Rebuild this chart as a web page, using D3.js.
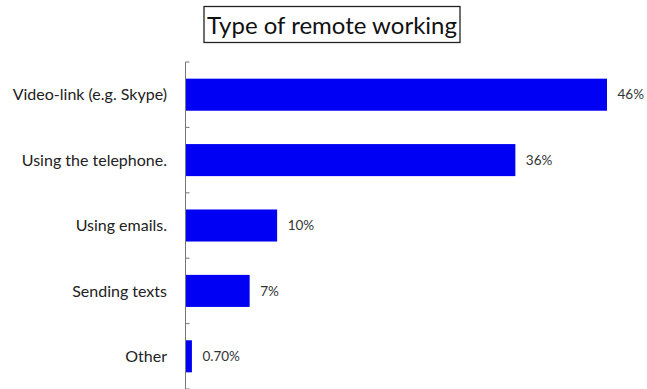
<!DOCTYPE html>
<html>
<head>
<meta charset="utf-8">
<script src="https://cdn.jsdelivr.net/npm/d3@7"></script>
<style>
  html, body { margin: 0; padding: 0; background: #fff; }
  svg { display: block; }
  text { font-family: Lato, "Open Sans", sans-serif; }
</style>
</head>
<body>
<svg id="chart" width="647" height="389"></svg>
<script>
// Ways people work remotely, as a share of responses
const categories = ["Video-link (e.g. Skype)", "Using the telephone.", "Using emails.", "Sending texts", "Other"];
const values = [46, 36, 10, 7, 0.7];
const valueLabels = ["46%", "36%", "10%", "7%", "0.70%"];
const title = "Type of remote working";

const svg = d3.select("#chart");
const margin = { top: 62, left: 185.5, right: 40, bottom: 0 };
const W = 647, H = 389;

const x = d3.scaleLinear().domain([0, 46]).range([margin.left, 607]);
const y = d3.scaleBand().domain(categories).range([margin.top, H]).paddingInner(0.51).paddingOuter(0.255);

// Title in a framed box
const tg = svg.append("g");
tg.append("rect")
  .attr("x", 204).attr("y", 6.5).attr("width", 256).attr("height", 36)
  .attr("fill", "#fff").attr("stroke", "#222").attr("stroke-width", 1.3);
tg.append("text")
  .attr("x", 332).attr("y", 34)
  .attr("text-anchor", "middle")
  .attr("font-size", 24)
  .attr("fill", "#111")
  .text(title);

// Bars
svg.append("g").selectAll("rect")
  .data(values)
  .join("rect")
  .attr("x", x(0))
  .attr("y", (d, i) => y(categories[i]))
  .attr("width", d => x(d) - x(0))
  .attr("height", y.bandwidth())
  .attr("fill", "#0000f5");

// Value labels
svg.append("g").selectAll("text")
  .data(values)
  .join("text")
  .attr("x", d => x(d) + 10.5)
  .attr("y", (d, i) => y(categories[i]) + y.bandwidth() / 2)
  .attr("dy", "0.35em")
  .attr("font-size", 13.5)
  .attr("fill", "#333")
  .text((d, i) => valueLabels[i]);

// Category axis with inward ticks at band boundaries
const axisG = svg.append("g");
axisG.append("line")
  .attr("x1", x(0)).attr("x2", x(0))
  .attr("y1", margin.top).attr("y2", H)
  .attr("stroke", "#777").attr("stroke-width", 1);
const bounds = categories.map(c => y(c) - y.step() * y.paddingInner() / 2);
bounds.push(H);
axisG.selectAll("line.tick")
  .data(bounds)
  .join("line")
  .attr("class", "tick")
  .attr("x1", x(0)).attr("x2", x(0) + 4)
  .attr("y1", d => d).attr("y2", d => d)
  .attr("stroke", "#777");

axisG.selectAll("text")
  .data(categories)
  .join("text")
  .attr("x", 167)
  .attr("y", d => y(d) + y.bandwidth() / 2)
  .attr("dy", "0.35em")
  .attr("text-anchor", "end")
  .attr("font-size", 16)
  .attr("fill", "#222")
  .text(d => d);
</script>
</body>
</html>
